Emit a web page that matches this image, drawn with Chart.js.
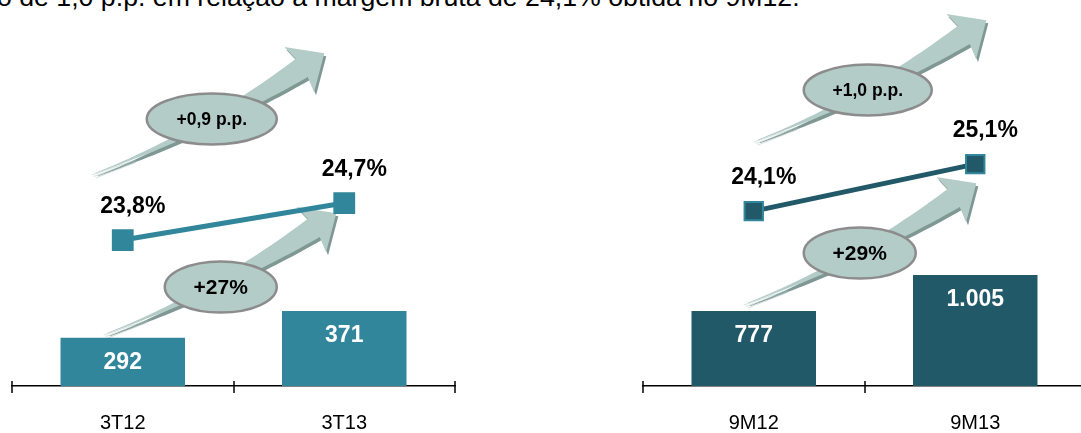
<!DOCTYPE html>
<html>
<head>
<meta charset="utf-8">
<script src="https://cdn.jsdelivr.net/npm/chart.js@4.4.0/dist/chart.umd.min.js"></script>
<style>
  html, body { margin:0; padding:0; background:#fff; overflow:hidden; width:1081px; height:433px; }
  #note { position:absolute; left:-3px; top:-16px; font-family:"Liberation Sans", Arial, sans-serif; font-size:26.7px; line-height:26px; color:#000; white-space:nowrap; }
  .wrap { position:absolute; top:0; height:433px; width:467px; }
  #w1 { left:0; }
  #w2 { left:631px; }
</style>
</head>
<body>
<div id="note">o de 1,0 p.p. em relação à margem bruta de 24,1% obtida no 9M12.</div>
<div class="wrap" id="w1"><canvas id="c1" width="467" height="433"></canvas></div>
<div class="wrap" id="w2"><canvas id="c2" width="467" height="433"></canvas></div>
<script>
// ---- data ----
const leftCategories = ['3T12', '3T13'];
const leftGrossProfit = [292, 371];
const leftGrossMargin = [23.8, 24.7];
const leftBadges = ['+0,9 p.p.', '+27%'];

const rightCategories = ['9M12', '9M13'];
const rightGrossProfit = [777, 1005];
const rightGrossMargin = [24.1, 25.1];
const rightBadges = ['+1,0 p.p.', '+29%'];

// ---- helpers ----
function fmtInt(v) {
  return String(Math.round(v)).replace(/\B(?=(\d{3})+(?!\d))/g, '.');
}
function fmtPct(v) {
  return v.toFixed(1).replace('.', ',') + '%';
}

function arrowPath(ctx, tx, ty) {
  const P0 = [0, 0], P1 = [110, -42], P2 = [206, -105];
  const N = 40, up = [], lo = [];
  for (let i = 0; i <= N; i++) {
    const t = i / N;
    const x = (1-t)*(1-t)*P0[0] + 2*(1-t)*t*P1[0] + t*t*P2[0];
    const y = (1-t)*(1-t)*P0[1] + 2*(1-t)*t*P1[1] + t*t*P2[1];
    let dx = 2*(1-t)*(P1[0]-P0[0]) + 2*t*(P2[0]-P1[0]);
    let dy = 2*(1-t)*(P1[1]-P0[1]) + 2*t*(P2[1]-P1[1]);
    const L = Math.hypot(dx, dy); dx /= L; dy /= L;
    const nx = -dy, ny = dx;
    const w = 0.4 + 10.5 * Math.pow(t, 1.4);
    up.push([x - nx*w, y - ny*w]);
    lo.push([x + nx*w, y + ny*w]);
  }
  let dx = P2[0]-P1[0], dy = P2[1]-P1[1];
  const L = Math.hypot(dx, dy); dx /= L; dy /= L;
  const nx = -dy, ny = dx;
  const cu = [P2[0] - nx*27 - dx*3, P2[1] - ny*27 - dy*3];
  const cl = [P2[0] + nx*27 - dx*3, P2[1] + ny*27 - dy*3];
  const tip = [P2[0] + dx*27, P2[1] + dy*27];
  ctx.beginPath();
  ctx.moveTo(tx + up[0][0], ty + up[0][1]);
  up.forEach(p => ctx.lineTo(tx + p[0], ty + p[1]));
  ctx.lineTo(tx + cu[0], ty + cu[1]);
  ctx.lineTo(tx + tip[0], ty + tip[1]);
  ctx.lineTo(tx + cl[0], ty + cl[1]);
  for (let i = lo.length - 1; i >= 0; i--) ctx.lineTo(tx + lo[i][0], ty + lo[i][1]);
  ctx.closePath();
}

function drawArrow(ctx, tx, ty) {
  ctx.save();
  ctx.fillStyle = '#7f9893';
  arrowPath(ctx, tx + 2, ty + 3);
  ctx.fill();
  ctx.fillStyle = '#b3ccc7';
  arrowPath(ctx, tx, ty);
  ctx.fill();
  // tail streaks
  ctx.strokeStyle = 'rgba(170,192,188,0.7)';
  ctx.lineWidth = 0.7;
  for (let k = 0; k < 3; k++) {
    ctx.beginPath();
    ctx.moveTo(tx - 4 + k*2, ty + 2 + k*1.5);
    ctx.lineTo(tx + 40, ty - 13 + k*1.2);
    ctx.stroke();
  }
  ctx.restore();
}

function drawBadge(ctx, cx, cy, rx, ry, text, size) {
  ctx.save();
  ctx.beginPath();
  ctx.ellipse(cx, cy, rx, ry, 0, 0, Math.PI * 2);
  ctx.fillStyle = '#b3ccc7';
  ctx.fill();
  ctx.lineWidth = 2.5;
  ctx.strokeStyle = '#8c8c8c';
  ctx.stroke();
  ctx.fillStyle = '#000';
  ctx.font = 'bold ' + size + 'px "Liberation Sans", Arial, sans-serif';
  ctx.textAlign = 'center';
  ctx.textBaseline = 'middle';
  ctx.fillText(text, cx, cy + 1);
  ctx.restore();
}

const decoPlugin = {
  id: 'deco',
  beforeDatasetsDraw(chart, args, opts) {
    const ctx = chart.ctx;
    const x0 = chart.scales.x.getPixelForValue(0);
    opts.arrows.forEach((a, i) => {
      drawArrow(ctx, x0 + a.dx, a.y);
      drawBadge(ctx, x0 + a.dx + a.ex, a.y + a.ey, a.rx, 25.5, opts.badges[i], a.size);
    });
  },
  afterDatasetsDraw(chart, args, opts) {
    const ctx = chart.ctx;
    ctx.save();
    ctx.textAlign = 'center';
    ctx.textBaseline = 'middle';
    // bar labels
    const barMeta = chart.getDatasetMeta(1);
    ctx.fillStyle = '#fff';
    ctx.font = 'bold 23px "Liberation Sans", Arial, sans-serif';
    barMeta.data.forEach((el, i) => {
      ctx.fillText(fmtInt(chart.data.datasets[1].data[i]), el.x, el.y + 25);
    });
    // line labels
    const lineMeta = chart.getDatasetMeta(0);
    ctx.fillStyle = '#000';
    ctx.font = 'bold 23px "Liberation Sans", Arial, sans-serif';
    lineMeta.data.forEach((el, i) => {
      ctx.fillText(fmtPct(chart.data.datasets[0].data[i]), el.x + 10, el.y - 33);
    });
    // axis ticks crossing the axis line
    const yb = chart.chartArea.bottom;
    ctx.strokeStyle = '#000';
    ctx.lineWidth = 1.5;
    const n = chart.data.labels.length;
    const w = (chart.chartArea.right - chart.chartArea.left) / n;
    for (let i = 0; i <= n; i++) {
      const x = Math.round(chart.chartArea.left + i * w);
      ctx.beginPath();
      ctx.moveTo(x, yb - 5);
      ctx.lineTo(x, yb + 7);
      ctx.stroke();
    }
    ctx.restore();
  }
};

function makeChart(id, labels, bars, margins, badges, cfg) {
  return new Chart(document.getElementById(id), {
    data: {
      labels: labels,
      datasets: [
        {
          type: 'line', data: margins, yAxisID: 'yl', order: 0,
          borderColor: cfg.lineColor, borderWidth: 5,
          pointStyle: 'rect', pointRadius: cfg.pointRadius,
          pointBackgroundColor: cfg.pointFill, pointBorderColor: cfg.pointBorder,
          pointBorderWidth: 2, tension: 0
        },
        {
          type: 'bar', data: bars, yAxisID: 'yb', order: 1,
          backgroundColor: cfg.barColor, borderWidth: 0,
          categoryPercentage: 1, barPercentage: 0.562
        }
      ]
    },
    options: {
      responsive: false, animation: false,
      layout: { autoPadding: false, padding: { left: 12, right: 12, top: 0, bottom: 0 } },
      plugins: {
        legend: { display: false }, tooltip: { enabled: false },
        deco: { arrows: cfg.arrows, badges: badges }
      },
      scales: {
        x: {
          offset: true,
          grid: { display: false },
          border: { display: true, color: '#000', width: 1.5 },
          ticks: { color: '#000', padding: 17, font: { family: '"Liberation Sans", Arial, sans-serif', size: 20 } },
          afterFit(s) { s.height = 47; }
        },
        yb: { display: false, min: cfg.barMin, max: cfg.barMax },
        yl: { display: false, min: cfg.lineMin, max: cfg.lineMax }
      }
    },
    plugins: [decoPlugin]
  });
}

makeChart('c1', leftCategories, leftGrossProfit, leftGrossMargin, leftBadges, {
  barColor: '#31869b', lineColor: '#31869b', pointFill: '#31869b', pointBorder: '#31869b', pointRadius: 14,
  barMin: 149, barMax: 1291, lineMin: 20.25, lineMax: 29.64,
  arrows: [ { dx: -27, y: 173, ex: 116, ey: -54, rx: 65, size: 17.5 },
            { dx: -15, y: 333, ex: 113, ey: -46, rx: 56, size: 21 } ]
});
makeChart('c2', rightCategories, rightGrossProfit, rightGrossMargin, rightBadges, {
  barColor: '#215968', lineColor: '#215968', pointFill: '#215968', pointBorder: '#31869b', pointRadius: 13,
  barMin: 302, barMax: 2745, lineMin: 20.38, lineMax: 28.59,
  arrows: [ { dx: 4, y: 140, ex: 110, ey: -50, rx: 64, size: 17.5 },
            { dx: -6, y: 303, ex: 112, ey: -50, rx: 56, size: 21 } ]
});
</script>
</body>
</html>
